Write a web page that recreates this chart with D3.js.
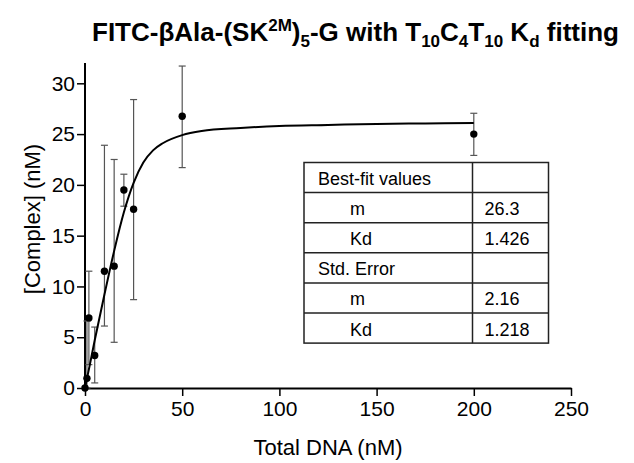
<!DOCTYPE html>
<html>
<head>
<meta charset="utf-8">
<script src="https://cdn.jsdelivr.net/npm/d3@7"></script>
<style>
    body { margin: 0; background: #fff; }
    svg { display: block; font-family: "Liberation Sans", Arial, Helvetica, sans-serif; }
</style>
</head>
<body>
<svg id="chart" width="634" height="463"></svg>
<script>
    // measured points (mean with lower / upper error bar ends)
    var dnaConc = [0, 1, 2, 5, 10, 15, 20, 25, 50, 200];
    var complexConc = [0, 0.95, 6.9, 3.2, 11.5, 12.0, 19.5, 17.6, 26.75, 25.0];
    var errLow = [null, 0, 2.3, 0.5, 6.1, 4.5, 17.9, 8.7, 21.7, 22.9];
    var errHigh = [null, 6.6, 11.5, 6.0, 23.9, 22.5, 21.05, 28.4, 31.7, 27.05];

    // fitted curve
    var fitX = [0, 2.5, 5, 10, 15, 20, 25, 30, 35, 40, 50, 60, 80, 100, 125, 150, 175, 200];
    var fitY = [0, 2.3, 4.7, 9.2, 13.5, 17.3, 20.2, 22.2, 23.4, 24.1, 24.9, 25.3, 25.6, 25.8, 25.9, 26.0, 26.05, 26.1];

    var xTicks = [0, 50, 100, 150, 200, 250];
    var yTicks = [0, 5, 10, 15, 20, 25, 30];

    // fit results table
    var tableLabels = ["Best-fit values", "m", "Kd", "Std. Error", "m", "Kd"];
    var tableIndent = [false, true, true, false, true, true];
    var tableValues = ["", "26.3", "1.426", "", "2.16", "1.218"];

(function () {
    "use strict";

    var svg = d3.select("#chart");
    var left = 85, right = 571, top = 63, bottom = 388;

    var x = d3.scaleLinear().domain([0, 250]).range([left, right]);
    var y = d3.scaleLinear().domain([0, 32]).range([bottom, top]);

    // axes
    var xAxis = svg.append("g")
        .attr("transform", "translate(0," + bottom + ")")
        .call(d3.axisBottom(x).tickValues(xTicks).tickSize(8).tickPadding(5).tickSizeOuter(0));
    var yAxis = svg.append("g")
        .attr("transform", "translate(" + left + ",0)")
        .call(d3.axisLeft(y).tickValues(yTicks).tickSize(8).tickPadding(2).tickSizeOuter(0));

    [xAxis, yAxis].forEach(function (a) {
        a.select(".domain").attr("stroke", "#000").attr("stroke-width", 2);
        a.selectAll(".tick line").attr("stroke", "#000").attr("stroke-width", 1.5);
        a.selectAll(".tick text")
            .attr("fill", "#000")
            .style("font-size", "21px")
            .style("font-family", "'Liberation Sans', Arial, sans-serif");
    });
    // extend y domain line up to the top of the range
    yAxis.select(".domain").attr("d", "M0," + bottom + "V" + top);

    svg.append("text")
        .attr("x", (left + right) / 2)
        .attr("y", 455)
        .attr("text-anchor", "middle")
        .style("font-size", "22px")
        .text("Total DNA (nM)");

    svg.append("text")
        .attr("transform", "translate(40,219) rotate(-90)")
        .attr("text-anchor", "middle")
        .style("font-size", "22px")
        .text("[Complex] (nM)");

    // title with sub/superscripts
    var title = svg.append("text")
        .attr("x", 92)
        .attr("y", 41)
        .style("font-size", "26px")
        .style("font-weight", "bold");
    var parts = [
        ["FITC-βAla-(SK", 0], ["2M", -1], [")", 0], ["5", 1], ["-G with T", 0],
        ["10", 1], ["C", 0], ["4", 1], ["T", 0], ["10", 1], [" K", 0], ["d", 1], [" fitting", 0]
    ];
    var level = 0;
    parts.forEach(function (p) {
        var shift = 0;
        if (p[1] === -1) shift = -10;
        if (p[1] === 1) shift = 6;
        title.append("tspan")
            .attr("dy", shift - level)
            .style("font-size", p[1] === 0 ? "26px" : "17px")
            .text(p[0]);
        level = shift;
    });

    // error bars
    var bars = svg.append("g").attr("stroke", "#555").attr("stroke-width", 1.2);
    dnaConc.forEach(function (d, i) {
        if (errLow[i] === null) return;
        var cx = x(d);
        bars.append("line")
            .attr("x1", cx).attr("x2", cx)
            .attr("y1", y(errLow[i])).attr("y2", y(errHigh[i]));
        bars.append("line")
            .attr("x1", cx - 3.5).attr("x2", cx + 3.5)
            .attr("y1", y(errHigh[i])).attr("y2", y(errHigh[i]));
        bars.append("line")
            .attr("x1", cx - 3.5).attr("x2", cx + 3.5)
            .attr("y1", y(errLow[i])).attr("y2", y(errLow[i]));
    });

    // fitted curve
    var line = d3.line()
        .x(function (d, i) { return x(fitX[i]); })
        .y(function (d) { return y(d); })
        .curve(d3.curveMonotoneX);
    svg.append("path")
        .attr("d", line(fitY))
        .attr("fill", "none")
        .attr("stroke", "#000")
        .attr("stroke-width", 2);

    // points
    svg.append("g").selectAll("circle")
        .data(complexConc)
        .enter()
        .append("circle")
        .attr("cx", function (d, i) { return x(dnaConc[i]); })
        .attr("cy", function (d) { return y(d); })
        .attr("r", 3.7)
        .attr("fill", "#000");

    // results table
    var tX = 304, tY = 162.5, rowH = 30.1, col1 = 168.5, col2 = 76;
    var table = svg.append("g").attr("transform", "translate(" + tX + "," + tY + ")");
    table.append("rect")
        .attr("width", col1 + col2)
        .attr("height", rowH * tableLabels.length)
        .attr("fill", "#fff")
        .attr("stroke", "#222")
        .attr("stroke-width", 1.5);
    tableLabels.forEach(function (lab, i) {
        if (i > 0) {
            table.append("line")
                .attr("x1", 0).attr("x2", col1 + col2)
                .attr("y1", i * rowH).attr("y2", i * rowH)
                .attr("stroke", "#222").attr("stroke-width", 1.5);
        }
        table.append("text")
            .attr("x", tableIndent[i] ? 46 : 14)
            .attr("y", i * rowH + 22.5)
            .style("font-size", "18px")
            .text(lab);
        table.append("text")
            .attr("x", col1 + 12)
            .attr("y", i * rowH + 22.5)
            .style("font-size", "18px")
            .text(tableValues[i]);
    });
    table.append("line")
        .attr("x1", col1).attr("x2", col1)
        .attr("y1", 0).attr("y2", rowH * tableLabels.length)
        .attr("stroke", "#222").attr("stroke-width", 1.5);
})();
</script>
</body>
</html>
